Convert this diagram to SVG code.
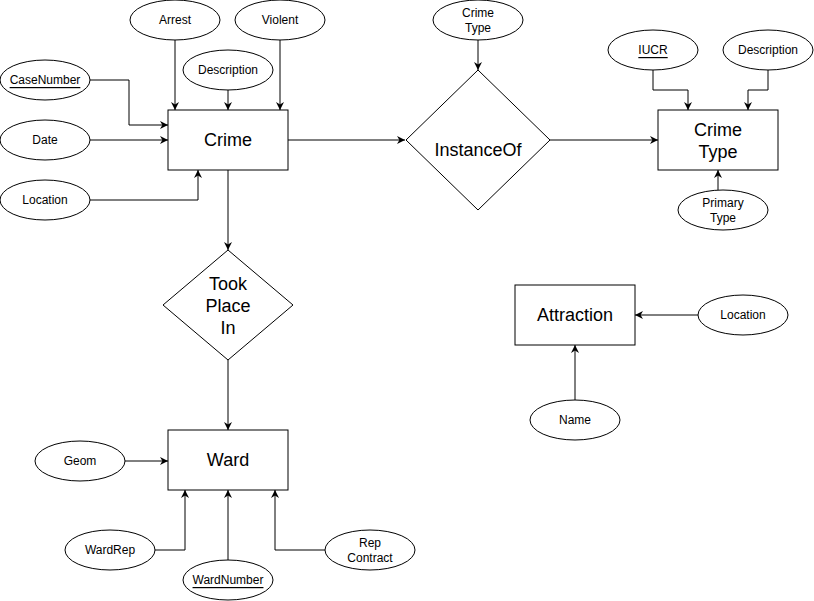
<svg xmlns="http://www.w3.org/2000/svg" width="814" height="601" viewBox="0 0 814 601">
<style>
.sh{fill:#fff;stroke:#000;stroke-width:1}
.t{font-family:"Liberation Sans",Arial,sans-serif;font-size:12px;fill:#000;text-anchor:middle;dominant-baseline:central}
.b{font-family:"Liberation Sans",Arial,sans-serif;font-size:18px;fill:#000;text-anchor:middle;dominant-baseline:central}
.c{fill:none;stroke:#000;stroke-width:1}
</style>
<defs>
<marker id="a" viewBox="0 0 10 10" refX="10" refY="5" markerWidth="8" markerHeight="8" markerUnits="userSpaceOnUse" orient="auto">
<path d="M0,0 L10,5 L0,10 L3,5 z" fill="#000"/>
</marker>
</defs>
<rect width="814" height="601" fill="#fff"/>
<g id="connectors">
<path class="c" marker-end="url(#a)" d="M90,80 H129 V125 H168"/>
<path class="c" marker-end="url(#a)" d="M90,140 H168"/>
<path class="c" marker-end="url(#a)" d="M90,200 H198 V170"/>
<path class="c" marker-end="url(#a)" d="M175,40 V110"/>
<path class="c" marker-end="url(#a)" d="M228,90 V110"/>
<path class="c" marker-end="url(#a)" d="M280,40 V110"/>
<path class="c" marker-end="url(#a)" d="M228,170 V250"/>
<path class="c" marker-end="url(#a)" d="M228,360 V430"/>
<path class="c" marker-end="url(#a)" d="M125,461 H168"/>
<path class="c" marker-end="url(#a)" d="M155,550 H185 V490"/>
<path class="c" marker-end="url(#a)" d="M228,560 V490"/>
<path class="c" marker-end="url(#a)" d="M325,550 H275 V490"/>
<path class="c" marker-end="url(#a)" d="M288,140 H405"/>
<path class="c" marker-end="url(#a)" d="M550,140 H658"/>
<path class="c" marker-end="url(#a)" d="M478,40 V70"/>
<path class="c" marker-end="url(#a)" d="M653,70 V90 H688 V110"/>
<path class="c" marker-end="url(#a)" d="M768,70 V90 H748 V110"/>
<path class="c" marker-end="url(#a)" d="M718,190 V170"/>
<path class="c" marker-end="url(#a)" d="M698,315 H635"/>
<path class="c" marker-end="url(#a)" d="M575,400 V345"/>
</g>
<g id="crime"><rect class="sh" x="168" y="110" width="120" height="60"/><text class="b" x="228" y="140">Crime</text></g>
<g id="arrest"><ellipse class="sh" cx="175" cy="20" rx="45" ry="20"/><text class="t" x="175" y="20">Arrest</text></g>
<g id="violent"><ellipse class="sh" cx="280" cy="20" rx="45" ry="20"/><text class="t" x="280" y="20">Violent</text></g>
<g id="crime-description"><ellipse class="sh" cx="228" cy="70" rx="45" ry="20"/><text class="t" x="228" y="70">Description</text></g>
<g id="casenumber"><ellipse class="sh" cx="45" cy="80" rx="45" ry="20"/><text class="t" x="45" y="80" text-decoration="underline">CaseNumber</text></g>
<g id="date"><ellipse class="sh" cx="45" cy="140" rx="45" ry="20"/><text class="t" x="45" y="140">Date</text></g>
<g id="crime-location"><ellipse class="sh" cx="45" cy="200" rx="45" ry="20"/><text class="t" x="45" y="200">Location</text></g>
<g id="tookplacein"><polygon class="sh" points="228,250 293,305 228,360 163,305"/><text class="b" x="228" y="284">Took</text><text class="b" x="228" y="306">Place</text><text class="b" x="228" y="328">In</text></g>
<g id="ward"><rect class="sh" x="168" y="430" width="120" height="60"/><text class="b" x="228" y="460">Ward</text></g>
<g id="geom"><ellipse class="sh" cx="80" cy="461" rx="45" ry="20"/><text class="t" x="80" y="461">Geom</text></g>
<g id="wardrep"><ellipse class="sh" cx="110" cy="550" rx="45" ry="20"/><text class="t" x="110" y="550">WardRep</text></g>
<g id="wardnumber"><ellipse class="sh" cx="228" cy="580" rx="45" ry="20"/><text class="t" x="228" y="580" text-decoration="underline">WardNumber</text></g>
<g id="repcontract"><ellipse class="sh" cx="370" cy="550" rx="45" ry="20"/><text class="t" x="370" y="543">Rep</text><text class="t" x="370" y="558">Contract</text></g>
<g id="instanceof"><polygon class="sh" points="478,70 550,140 478,210 406,140"/><text class="b" x="478" y="150">InstanceOf</text></g>
<g id="crimetype-attr"><ellipse class="sh" cx="478" cy="20" rx="45" ry="20"/><text class="t" x="478" y="13">Crime</text><text class="t" x="478" y="28">Type</text></g>
<g id="crimetype"><rect class="sh" x="658" y="110" width="120" height="60"/><text class="b" x="718" y="130">Crime</text><text class="b" x="718" y="152">Type</text></g>
<g id="iucr"><ellipse class="sh" cx="653" cy="50" rx="45" ry="20"/><text class="t" x="653" y="50" text-decoration="underline">IUCR</text></g>
<g id="ct-description"><ellipse class="sh" cx="768" cy="50" rx="45" ry="20"/><text class="t" x="768" y="50">Description</text></g>
<g id="primarytype"><ellipse class="sh" cx="723" cy="210" rx="45" ry="20"/><text class="t" x="723" y="203">Primary</text><text class="t" x="723" y="218">Type</text></g>
<g id="attraction"><rect class="sh" x="515" y="285" width="120" height="60"/><text class="b" x="575" y="315">Attraction</text></g>
<g id="attr-location"><ellipse class="sh" cx="743" cy="315" rx="45" ry="20"/><text class="t" x="743" y="315">Location</text></g>
<g id="name"><ellipse class="sh" cx="575" cy="420" rx="45" ry="20"/><text class="t" x="575" y="420">Name</text></g>
</svg>
